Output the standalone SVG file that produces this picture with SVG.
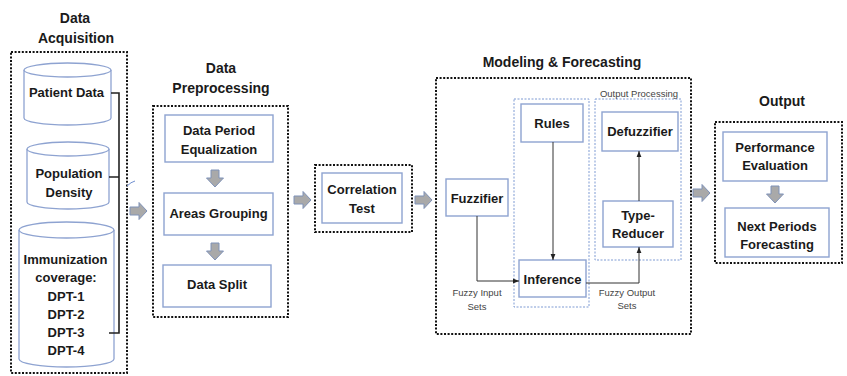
<svg xmlns="http://www.w3.org/2000/svg" width="847" height="376" viewBox="0 0 847 376">
  <style>
    text { font-family: "Liberation Sans", Arial, sans-serif; fill: #1a1a1a; text-anchor: middle; dominant-baseline: central; }
    .title { font-size: 14px; font-weight: bold; }
    .lbl { font-size: 13px; font-weight: bold; }
    .small { font-size: 9.5px; fill: #444; }
    .stage { fill: none; stroke: #111; stroke-width: 2; stroke-dasharray: 2 1.6; }
    .group { fill: none; stroke: #7f9bd3; stroke-width: 1; stroke-dasharray: 2 1.5; }
    .box { fill: #fff; stroke: #8ea3d1; stroke-width: 1.4; }
    .cyl { fill: #fff; stroke: #8ea3d1; stroke-width: 1.3; }
    .blk { fill: #a9a9a9; stroke: #7f92b8; stroke-width: 1; }
    .wire { fill: none; stroke: #333; stroke-width: 1; }
    .bracket { fill: none; stroke: #222; stroke-width: 1.6; }
  </style>
  <defs>
    <marker id="tip" viewBox="0 0 10 10" refX="10" refY="5" markerWidth="6" markerHeight="6" orient="auto">
      <path d="M0,1 L10,5 L0,9 Z" fill="#222"/>
    </marker>
    <path id="blkR" d="M-17,-4 H-8 V-8.5 L0,0 L-8,8.5 V4 H-17 Z"/>
    <path id="blkD" d="M-4,-17 V-9 H-8.5 L0,0 L8.5,-9 H4 V-17 Z"/>
  </defs>

  <!-- stage titles -->
  <g id="titles">
    <text class="title" x="75" y="18">Data</text>
    <text class="title" x="76" y="38">Acquisition</text>
    <text class="title" x="221" y="68">Data</text>
    <text class="title" x="221" y="88">Preprocessing</text>
    <text class="title" x="562" y="62">Modeling &amp; Forecasting</text>
    <text class="title" x="782" y="101">Output</text>
  </g>

  <!-- stage frames -->
  <g id="stages">
    <rect class="stage" x="11" y="52" width="116" height="321"/>
    <rect class="stage" x="153" y="106" width="135" height="211"/>
    <rect class="stage" x="315" y="165" width="97" height="67"/>
    <rect class="stage" x="436" y="78" width="255" height="256"/>
    <rect class="stage" x="715" y="122" width="127" height="141"/>
    <rect class="group" x="514" y="99" width="75" height="208"/>
    <rect class="group" x="595" y="99" width="86" height="161"/>
    <text class="small" x="639" y="93">Output Processing</text>
  </g>

  <!-- data sources -->
  <g id="patient-data">
    <path class="cyl" d="M24,70 V118 A43.5,7 0 0 0 111,118 V70"/>
    <ellipse class="cyl" cx="67.5" cy="70" rx="43.5" ry="7"/>
    <text class="lbl" x="66.5" y="92">Patient Data</text>
  </g>
  <g id="population-density">
    <path class="cyl" d="M27,149 V202 A41,7 0 0 0 109,202 V149"/>
    <ellipse class="cyl" cx="68" cy="149" rx="41" ry="7"/>
    <text class="lbl" x="69" y="173">Population</text>
    <text class="lbl" x="69" y="192">Density</text>
  </g>
  <g id="immunization-coverage">
    <path class="cyl" d="M19,230 V359 A47.5,8 0 0 0 114,359 V230"/>
    <ellipse class="cyl" cx="66.5" cy="230" rx="47.5" ry="8"/>
    <text class="lbl" x="65.5" y="259">Immunization</text>
    <text class="lbl" x="66" y="277">coverage:</text>
    <text class="lbl" x="66" y="296">DPT-1</text>
    <text class="lbl" x="66" y="314">DPT-2</text>
    <text class="lbl" x="66" y="332">DPT-3</text>
    <text class="lbl" x="66" y="350">DPT-4</text>
  </g>

  <!-- preprocessing steps -->
  <g id="data-period-equalization">
    <rect class="box" x="165" y="115" width="108" height="47"/>
    <text class="lbl" x="219" y="130">Data Period</text>
    <text class="lbl" x="219" y="149">Equalization</text>
  </g>
  <g id="areas-grouping">
    <rect class="box" x="164" y="193" width="109" height="42"/>
    <text class="lbl" x="218.5" y="213">Areas Grouping</text>
  </g>
  <g id="data-split">
    <rect class="box" x="163" y="265" width="108" height="42"/>
    <text class="lbl" x="217" y="284">Data Split</text>
  </g>

  <g id="correlation-test">
    <rect class="box" x="322" y="173" width="80" height="50"/>
    <text class="lbl" x="362" y="189">Correlation</text>
    <text class="lbl" x="362" y="208">Test</text>
  </g>

  <!-- fuzzy model -->
  <g id="fuzzifier">
    <rect class="box" x="446" y="179" width="62" height="37"/>
    <text class="lbl" x="477" y="198">Fuzzifier</text>
  </g>
  <g id="rules">
    <rect class="box" x="521" y="104" width="62" height="38"/>
    <text class="lbl" x="552" y="123">Rules</text>
  </g>
  <g id="inference">
    <rect class="box" x="519" y="260" width="67" height="37"/>
    <text class="lbl" x="552.5" y="279">Inference</text>
  </g>
  <g id="defuzzifier">
    <rect class="box" x="602" y="112" width="76" height="39"/>
    <text class="lbl" x="640" y="131">Defuzzifier</text>
  </g>
  <g id="type-reducer">
    <rect class="box" x="603" y="201" width="70" height="46"/>
    <text class="lbl" x="638" y="215">Type-</text>
    <text class="lbl" x="638" y="233">Reducer</text>
  </g>

  <!-- output steps -->
  <g id="performance-evaluation">
    <rect class="box" x="723" y="132" width="104" height="49"/>
    <text class="lbl" x="775" y="147">Performance</text>
    <text class="lbl" x="775" y="165">Evaluation</text>
  </g>
  <g id="next-periods-forecasting">
    <rect class="box" x="725" y="208" width="104" height="49"/>
    <text class="lbl" x="777" y="226">Next Periods</text>
    <text class="lbl" x="777" y="244">Forecasting</text>
  </g>

  <!-- connectors -->
  <g id="connectors">
    <path class="bracket" d="M111,93 H119 V333 H109 M109,177 H119"/>
    <path d="M127,186 Q131,182 135,181" fill="none" stroke="#6f8fd0" stroke-width="1"/>
    <use href="#blkR" class="blk" x="147" y="211"/>
    <use href="#blkD" class="blk" x="215" y="187"/>
    <use href="#blkD" class="blk" x="215" y="260"/>
    <use href="#blkR" class="blk" x="311" y="200"/>
    <use href="#blkR" class="blk" x="432" y="200"/>
    <use href="#blkR" class="blk" x="710" y="193"/>
    <use href="#blkD" class="blk" x="775" y="203"/>
    <path class="wire" d="M553,142 V260" marker-end="url(#tip)"/>
    <path class="wire" d="M477,216 V281 H519" marker-end="url(#tip)"/>
    <path class="wire" d="M586,283 H639 V247" marker-end="url(#tip)"/>
    <path class="wire" d="M639,201 V151" marker-end="url(#tip)"/>
    <text class="small" x="477" y="292">Fuzzy Input</text>
    <text class="small" x="477" y="306">Sets</text>
    <text class="small" x="627" y="292">Fuzzy Output</text>
    <text class="small" x="627" y="305">Sets</text>
  </g>
</svg>
